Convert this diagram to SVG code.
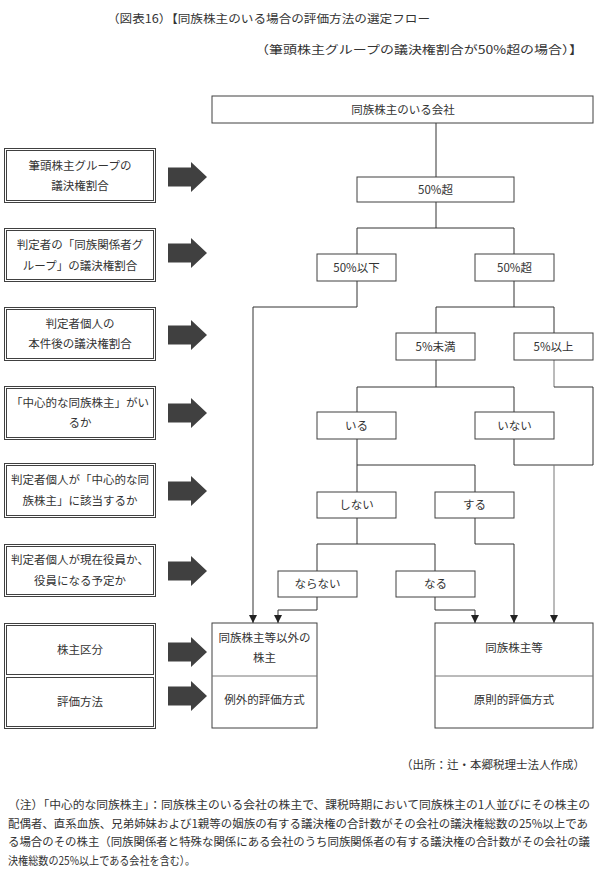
<svg xmlns="http://www.w3.org/2000/svg" width="600" height="887" viewBox="0 0 600 887">
<defs>
<style>
text{font-family:"Noto Sans CJK JP","Noto Sans",sans-serif;fill:#333;font-size:11.5px}
.c{text-anchor:middle}
.box{fill:#fff;stroke:#404040;stroke-width:1}
.lo{fill:#fff;stroke:#404040;stroke-width:1}
.li{fill:none;stroke:#404040;stroke-width:1}
.ln{fill:none;stroke:#333;stroke-width:1}
.lg{fill:none;stroke:#777;stroke-width:1}
.ba{fill:#404040}
</style>
<marker id="ah" viewBox="0 0 8 8" refX="8" refY="4" markerWidth="8" markerHeight="8" markerUnits="userSpaceOnUse" orient="auto">
<path d="M0,0 L8,4 L0,8 Z" fill="#222"/>
</marker>
<path id="blk" d="M0,-9.5 H23 V-15 L39,0 L23,15 V9.5 H0 Z"/>
</defs>

<g id="title">
<text x="107" y="23" font-size="13" textLength="323" lengthAdjust="spacingAndGlyphs">（図表16）【同族株主のいる場合の評価方法の選定フロー</text>
<text x="255" y="54" font-size="13" textLength="328" lengthAdjust="spacingAndGlyphs">（筆頭株主グループの議決権割合が50%超の場合）】</text>
</g>

<g id="connectors">
<path class="ln" d="M436,123 V177"/>
<path class="ln" d="M436,202 V228 M357,228 H514 M357,228 V254 M514,228 V254"/>
<path class="ln" d="M357,281 V307 H253 V623" marker-end="url(#ah)"/>
<path class="ln" d="M514,281 V307 M436,307 H554 M436,307 V333 M554,307 V333"/>
<path class="ln" d="M436,360 V387 M357,387 H514 M357,387 V412 M514,387 V412"/>
<path class="lg" d="M554,360 V387"/>
<path class="ln" d="M554,387 H593 V465 H514"/>
<path class="ln" d="M514,439 V465"/>
<path class="lg" d="M554,465 V623" marker-end="url(#ah)"/>
<path class="ln" d="M357,439 V465 H475 V492 M357,465 V492"/>
<path class="ln" d="M357,518 V544 M317,544 H435 M317,544 V571 M435,544 V571"/>
<path class="ln" d="M475,518 V544 H514 V623" marker-end="url(#ah)"/>
<path class="ln" d="M317,597 V610 H278 V623" marker-end="url(#ah)"/>
<path class="ln" d="M435,597 V610 H475 V623" marker-end="url(#ah)"/>
</g>

<g id="n-top"><rect class="box" x="212" y="96" width="381" height="27"/><text class="c" x="403" y="113.5">同族株主のいる会社</text></g>
<g id="n-over50a"><rect class="box" x="357" y="177" width="157" height="25"/><text class="c" x="435.5" y="193.5">50%超</text></g>
<g id="n-le50"><rect class="box" x="317" y="254" width="79" height="27"/><text class="c" x="356.5" y="271.5">50%以下</text></g>
<g id="n-over50b"><rect class="box" x="475" y="254" width="79" height="27"/><text class="c" x="514.5" y="271.5">50%超</text></g>
<g id="n-lt5"><rect class="box" x="396" y="333" width="79" height="27"/><text class="c" x="435.5" y="350.5">5%未満</text></g>
<g id="n-ge5"><rect class="box" x="514" y="333" width="79" height="27"/><text class="c" x="553.5" y="350.5">5%以上</text></g>
<g id="n-iru"><rect class="box" x="317" y="412" width="79" height="27"/><text class="c" x="356.5" y="429.5">いる</text></g>
<g id="n-inai"><rect class="box" x="475" y="412" width="79" height="27"/><text class="c" x="514.5" y="429.5">いない</text></g>
<g id="n-shinai"><rect class="box" x="317" y="492" width="79" height="26"/><text class="c" x="356.5" y="509">しない</text></g>
<g id="n-suru"><rect class="box" x="435" y="492" width="79" height="26"/><text class="c" x="474.5" y="509">する</text></g>
<g id="n-naranai"><rect class="box" x="278" y="571" width="79" height="26"/><text class="c" x="317.5" y="588">ならない</text></g>
<g id="n-naru"><rect class="box" x="396" y="571" width="79" height="26"/><text class="c" x="435.5" y="588">なる</text></g>

<g id="n-result-left">
<rect class="box" x="212" y="623" width="105" height="105"/>
<path class="lg" d="M212,676 H317" stroke-width="1.5"/>
<text class="c" x="264.5" y="641.5">同族株主等以外の</text>
<text class="c" x="264.5" y="662">株主</text>
<text class="c" x="264.5" y="704">例外的評価方式</text>
</g>
<g id="n-result-right">
<rect class="box" x="435" y="623" width="158" height="105"/>
<path class="lg" d="M435,676 H593" stroke-width="1.5"/>
<text class="c" x="514" y="652">同族株主等</text>
<text class="c" x="514" y="704">原則的評価方式</text>
</g>

<g id="q1"><rect class="lo" x="4.5" y="148.5" width="151" height="54"/><rect class="li" x="6.5" y="150.5" width="147" height="50"/><text class="c" x="80" y="169.5">筆頭株主グループの</text><text class="c" x="80" y="190">議決権割合</text></g>
<g id="q2"><rect class="lo" x="4.5" y="228.5" width="151" height="53"/><rect class="li" x="6.5" y="230.5" width="147" height="49"/><text class="c" x="80" y="249">判定者の「同族関係者グ</text><text class="c" x="80" y="269.5">ループ」の議決権割合</text></g>
<g id="q3"><rect class="lo" x="4.5" y="307.5" width="151" height="53"/><rect class="li" x="6.5" y="309.5" width="147" height="49"/><text class="c" x="80" y="327.5">判定者個人の</text><text class="c" x="80" y="348">本件後の議決権割合</text></g>
<g id="q4"><rect class="lo" x="4.5" y="386.5" width="151" height="53"/><rect class="li" x="6.5" y="388.5" width="147" height="49"/><text class="c" x="80" y="406.5">「中心的な同族株主」がい</text><text class="c" x="80" y="427">るか</text></g>
<g id="q5"><rect class="lo" x="4.5" y="463.5" width="151" height="54"/><rect class="li" x="6.5" y="465.5" width="147" height="50"/><text class="c" x="80" y="484">判定者個人が「中心的な同</text><text class="c" x="80" y="504.5">族株主」に該当するか</text></g>
<g id="q6"><rect class="lo" x="4.5" y="544.5" width="151" height="52"/><rect class="li" x="6.5" y="546.5" width="147" height="48"/><text class="c" x="80" y="564">判定者個人が現在役員か、</text><text class="c" x="80" y="584.5">役員になる予定か</text></g>
<g id="q7">
<rect class="lo" x="4.5" y="623.5" width="151" height="105"/>
<rect class="li" x="6.5" y="625.5" width="147" height="49"/>
<rect class="li" x="6.5" y="677.5" width="147" height="49"/>
<text class="c" x="80" y="654">株主区分</text>
<text class="c" x="80" y="706">評価方法</text>
</g>

<g id="block-arrows">
<use href="#blk" class="ba" x="168" y="177"/>
<use href="#blk" class="ba" x="168" y="253"/>
<use href="#blk" class="ba" x="168" y="335"/>
<use href="#blk" class="ba" x="168" y="413"/>
<use href="#blk" class="ba" x="168" y="491"/>
<use href="#blk" class="ba" x="168" y="571"/>
<use href="#blk" class="ba" x="168" y="652"/>
<use href="#blk" class="ba" x="168" y="696"/>
</g>

<g id="source"><text x="585" y="769" font-size="11" text-anchor="end">（出所：辻・本郷税理士法人作成）</text></g>

<g id="note">
<text x="8" y="809" textLength="582" lengthAdjust="spacingAndGlyphs">（注）「中心的な同族株主」：同族株主のいる会社の株主で、課税時期において同族株主の1人並びにその株主の</text>
<text x="8" y="828" textLength="580" lengthAdjust="spacingAndGlyphs">配偶者、直系血族、兄弟姉妹および1親等の姻族の有する議決権の合計数がその会社の議決権総数の25%以上であ</text>
<text x="8" y="846" textLength="582" lengthAdjust="spacingAndGlyphs">る場合のその株主（同族関係者と特殊な関係にある会社のうち同族関係者の有する議決権の合計数がその会社の議</text>
<text x="8" y="865" textLength="187" lengthAdjust="spacingAndGlyphs">決権総数の25%以上である会社を含む）。</text>
</g>
</svg>
